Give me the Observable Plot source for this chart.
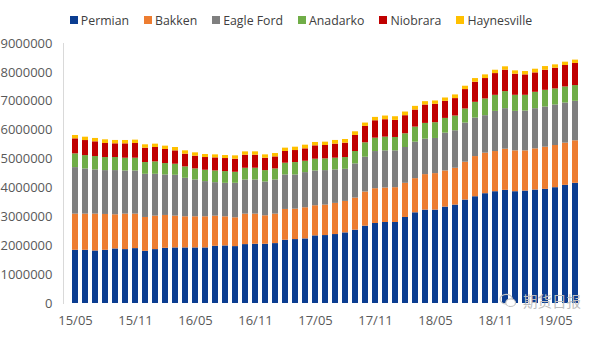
<!DOCTYPE html>
<html>
<head>
<meta charset="utf-8">
<script src="https://cdn.jsdelivr.net/npm/d3@7"></script>
<script src="https://cdn.jsdelivr.net/npm/@observablehq/plot@0.6"></script>
<style>
  html, body { margin: 0; padding: 0; background: #fff; }
  #wrap { position: relative; width: 600px; height: 337px; overflow: hidden; font-family: "Open Sans", sans-serif; }
  #legend { height: 28px; padding-top: 6px; display: flex; justify-content: center; align-items: center; font-size: 12.3px; color: #404040; padding-left: 2px; }
  .item { display: flex; align-items: center; margin-right: 15px; }
  .item:last-child { margin-right: 0; }
  .sw { width: 8px; height: 8px; margin-right: 3px; }
  #wm { position: absolute; left: 498px; top: 293px; display: flex; align-items: center; color: #bdbdbd; font-family: "Noto Sans CJK SC", sans-serif; font-size: 14.5px; line-height: 14px; }
</style>
</head>
<body>
<div id="wrap">
  <div id="legend"></div>
  <div id="chart"></div>
  <div id="wm">
    <svg width="20" height="15" viewBox="0 0 20 17"><ellipse cx="8" cy="7" rx="7" ry="5.5" fill="none" stroke="#c4c4c4" stroke-width="1.3"/><ellipse cx="13" cy="11" rx="5.5" ry="4.3" fill="#fff" stroke="#c4c4c4" stroke-width="1.3"/></svg>
    <span style="margin-left:5px">期货日报</span>
  </div>
</div>
<script>
const months = ["15/05","15/06","15/07","15/08","15/09","15/10","15/11","15/12",
  "16/01","16/02","16/03","16/04","16/05","16/06","16/07","16/08","16/09","16/10","16/11","16/12",
  "17/01","17/02","17/03","17/04","17/05","17/06","17/07","17/08","17/09","17/10","17/11","17/12",
  "18/01","18/02","18/03","18/04","18/05","18/06","18/07","18/08","18/09","18/10","18/11","18/12",
  "19/01","19/02","19/03","19/04","19/05","19/06","19/07"];
const tickLabels = ["15/05","15/11","16/05","16/11","17/05","17/11","18/05","18/11","19/05"];
const yTicks = [0,1000000,2000000,3000000,4000000,5000000,6000000,7000000,8000000,9000000];

const series = ["Permian","Bakken","Eagle Ford","Anadarko","Niobrara","Haynesville"];
const colors = ["#0b3d91","#ed7d31","#7f7f7f","#70ad47","#c00000","#ffc000"];

const permian = [1842000,1842000,1819000,1842000,1889000,1866000,1900000,1808000,1866000,1912000,
  1924000,1924000,1924000,1924000,1981000,1993000,1970000,2039000,2051000,2051000,
  2074000,2190000,2213000,2236000,2341000,2352000,2387000,2445000,2538000,2677000,
  2769000,2804000,2804000,2978000,3140000,3233000,3233000,3337000,3407000,3581000,
  3696000,3801000,3870000,3917000,3870000,3893000,3928000,3951000,4009000,4090000,4160000];
const bakken = [1251000,1251000,1275000,1240000,1182000,1228000,1194000,1170000,1159000,1136000,
  1101000,1078000,1078000,1078000,1043000,1008000,997000,1054000,1043000,985000,
  1020000,1066000,1054000,1078000,1043000,1054000,1078000,1089000,1112000,1182000,
  1205000,1194000,1205000,1182000,1182000,1228000,1263000,1251000,1275000,1309000,
  1390000,1402000,1390000,1425000,1414000,1390000,1425000,1460000,1460000,1460000,1472000];
const eagleFord = [1611000,1564000,1530000,1518000,1530000,1495000,1495000,1495000,1448000,1402000,
  1414000,1333000,1275000,1217000,1159000,1159000,1194000,1182000,1182000,1170000,
  1182000,1194000,1182000,1217000,1205000,1194000,1159000,1112000,1182000,1205000,
  1286000,1286000,1275000,1240000,1263000,1228000,1217000,1309000,1298000,1356000,
  1333000,1298000,1390000,1402000,1367000,1379000,1390000,1390000,1402000,1390000,1367000];
const anadarko = [475000,463000,463000,452000,452000,440000,440000,406000,429000,394000,
  382000,394000,382000,394000,406000,406000,382000,406000,406000,394000,
  382000,406000,429000,394000,406000,406000,406000,406000,429000,498000,
  463000,475000,463000,475000,521000,545000,545000,510000,510000,487000,
  545000,579000,556000,591000,556000,545000,568000,579000,556000,556000,545000];
const niobrara = [521000,521000,510000,487000,475000,498000,510000,498000,498000,487000,
  463000,440000,440000,440000,452000,452000,452000,452000,452000,429000,
  417000,406000,417000,429000,463000,463000,487000,498000,556000,568000,
  603000,603000,591000,626000,591000,637000,637000,591000,603000,672000,
  695000,707000,753000,742000,730000,707000,672000,695000,718000,742000,765000];
const haynesville = [116000,116000,116000,127000,116000,116000,116000,116000,116000,116000,
  116000,116000,116000,104000,104000,104000,116000,116000,116000,116000,
  116000,116000,116000,127000,116000,116000,127000,127000,127000,116000,
  116000,127000,127000,127000,127000,116000,116000,116000,127000,116000,
  127000,127000,116000,116000,116000,116000,127000,127000,116000,116000,116000];

const values = [permian, bakken, eagleFord, anadarko, niobrara, haynesville];
const data = months.flatMap((m, i) => series.map((s, j) => ({month: m, series: s, value: values[j][i]})));

// legend
const legend = document.getElementById("legend");
series.forEach((s, j) => {
  const it = document.createElement("div");
  it.className = "item";
  it.innerHTML = `<span class="sw" style="background:${colors[j]}"></span><span>${s}</span>`;
  legend.appendChild(it);
});

const chart = Plot.plot({
  width: 600,
  height: 303,
  marginTop: 9,
  marginBottom: 34,
  marginLeft: 63,
  marginRight: 14,
  style: {fontFamily: "'Open Sans', sans-serif", fontSize: "13px", color: "#595959", background: "#fff"},
  x: {domain: months, paddingInner: 0.4, paddingOuter: 0.19, label: null},
  y: {domain: [0, 9000000], label: null},
  color: {domain: series, range: colors},
  marks: [
    Plot.barY(data, {x: "month", y: "value", fill: "series"}),
    Plot.frame({anchor: "left", stroke: "#d9d9d9"}),
    Plot.axisY({ticks: yTicks, tickSize: 0, tickPadding: 11, tickFormat: d => String(d), label: null}),
    Plot.axisX({ticks: tickLabels, tickSize: 0, tickPadding: 12, label: null})
  ]
});
document.getElementById("chart").appendChild(chart);
</script>
</body>
</html>
